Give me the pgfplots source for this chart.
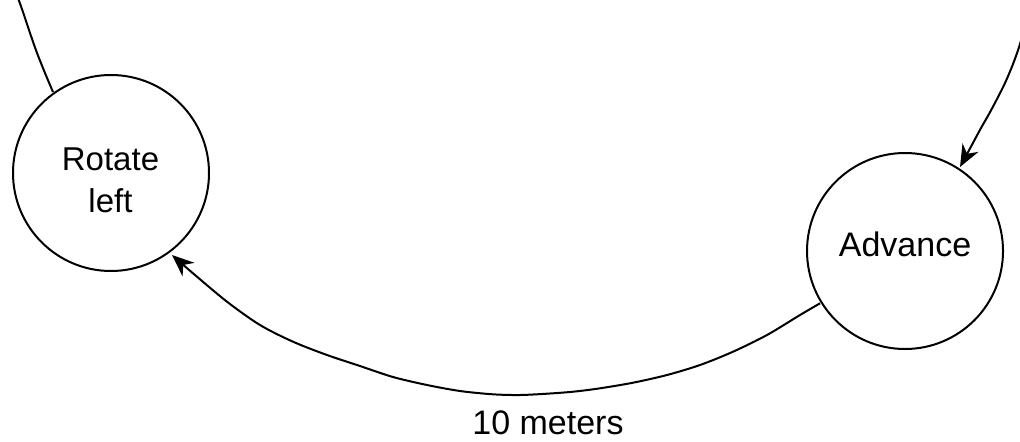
\documentclass[border=0pt]{standalone}
\usepackage{pgfplots}
\pgfplotsset{compat=1.18}
\usepackage{fontspec}
\setmainfont{Liberation Sans}
\usetikzlibrary{arrows.meta}
\begin{document}
\begin{tikzpicture}
\begin{axis}[
  scale only axis, width=510pt, height=220.5pt,
  xmin=0, xmax=1020, ymin=0, ymax=441, y dir=reverse,
  hide axis,
]
% state circles
\addplot[only marks, mark=o, mark size=49pt, mark options={line width=1pt, black}] coordinates {(111,173) (905,251)};
% top-left incoming edge
\addplot[black, line width=1pt, smooth] coordinates {(18,-2) (23,12) (30,33) (37,53) (45,73) (53,92)};
% top-right arrow into Advance
\addplot[black, line width=1pt, smooth, -{Stealth[length=11pt,width=9pt,inset=3.5pt]}] coordinates {(1031,-2) (1026,20) (1020,44) (1013,64) (1005,83) (997,99) (989,114) (981,128) (974,141) (967,154) (960,167)};
% bottom arc Advance -> Rotate left
\addplot[black, line width=1pt, smooth, -{Stealth[length=11pt,width=9pt,inset=3.5pt]}] coordinates {(820,303.3) (800,315) (767,335) (733,351.7) (700,365) (667,375) (633,382.7) (600,388.3) (575,391.5) (550,393.5) (520,395) (493,394.3) (460,391) (427,385) (393,377) (360,366) (327,355) (293,341.7) (260,325) (227,301.7) (193,273.3) (172,255)};
\node[font=\fontsize{16.5}{21}\selectfont, anchor=base, inner sep=0pt] at (axis cs:110.5,170) {Rotate};
\node[font=\fontsize{16.5}{21}\selectfont, anchor=base, inner sep=0pt] at (axis cs:110.5,212) {left};
\node[font=\fontsize{17}{21}\selectfont, anchor=base, inner sep=0pt] at (axis cs:905,256) {Advance};
\node[font=\fontsize{17}{21}\selectfont, anchor=base, inner sep=0pt] at (axis cs:548,434) {10 meters};
\end{axis}
\pgfresetboundingbox
\useasboundingbox (current axis.south west) rectangle (current axis.north east);
\end{tikzpicture}
\end{document}
